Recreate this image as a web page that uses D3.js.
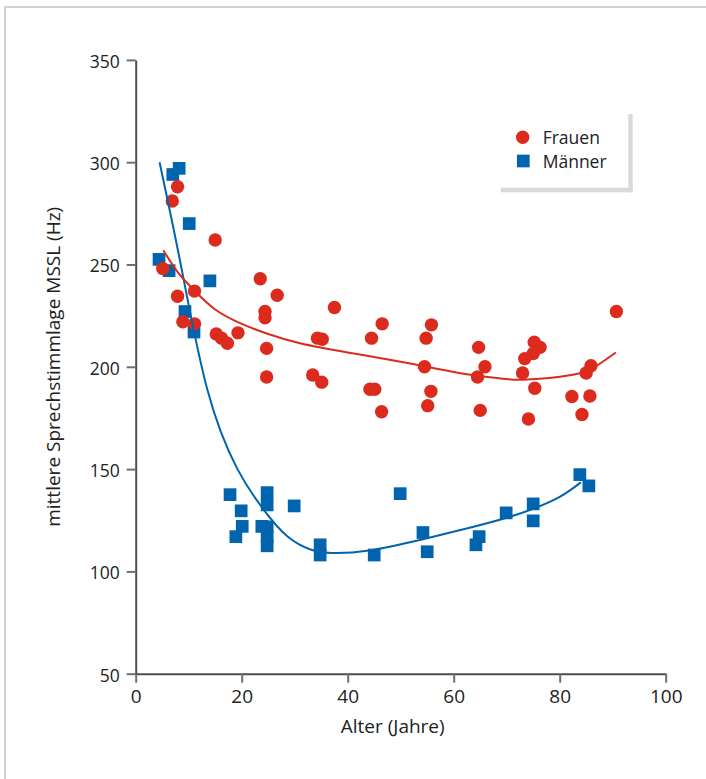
<!DOCTYPE html>
<html>
<head>
<meta charset="utf-8">
<script src="https://cdn.jsdelivr.net/npm/d3@7"></script>
<style>
  html, body { margin: 0; padding: 0; background: #fff; }
  svg { display: block; }
  text { font-family: "Open Sans", "Noto Sans", "DejaVu Sans", sans-serif; fill: #222; }
</style>
</head>
<body>
<svg id="chart" width="706" height="779"></svg>
<script>
// ---- data ----
const frauenAge = [5.1, 6.9, 7.9, 7.9, 8.9, 11.1, 11.1, 15.0, 15.2, 16.2, 17.3, 19.3, 23.5, 24.4, 24.4, 24.7, 24.7, 26.7,
  33.4, 34.3, 35.2, 35.1, 37.5, 44.2, 45.1, 44.5, 46.5, 46.4, 54.5, 54.8, 55.8, 55.7, 55.1,
  64.7, 65.9, 64.5, 65.0, 73.0, 73.4, 75.0, 75.2, 76.3, 75.3, 74.1, 82.3, 84.2, 85.7, 85.0, 85.9, 90.7];
const frauenHz = [248, 281, 288, 234.5, 222, 237, 221, 262, 216, 214, 211.5, 216.6, 243, 227, 224, 209, 195, 235,
  196, 214, 213.5, 192.5, 229, 189, 189, 214, 221, 178, 200, 214, 220.5, 188, 181,
  209.5, 200, 195, 178.7, 197, 204, 206.5, 212, 209.5, 189.5, 174.5, 185.5, 176.7, 185.7, 197, 200.5, 227];

const maennerAge = [8.2, 7.0, 10.1, 4.4, 6.3, 14.0, 9.3, 11.0,
  17.8, 19.9, 24.8, 24.8, 29.9, 20.1, 18.9, 23.8, 24.8, 24.8, 24.8, 34.8, 34.8,
  49.9, 45.0, 54.2, 55.0, 64.8, 64.2, 69.9, 75.0, 75.0, 83.8, 85.5];
const maennerHz = [297, 294, 270, 252.5, 247, 242, 227, 217,
  137.5, 129.6, 138.5, 132.5, 132, 122, 117, 122, 121.8, 117, 112.5, 113, 108,
  138, 108, 119, 109.6, 117, 113, 128.6, 133, 124.7, 147.3, 141.8];

// fitted trend curves
const fitFrauenAge = [5.2, 8, 11, 15, 20, 25, 31, 40, 50, 55, 61, 65, 70, 73, 78, 84, 87, 90.6];
const fitFrauenHz  = [257, 246, 237.5, 228, 221, 216, 211.5, 207, 202.5, 200, 197, 195.5, 194, 193.7, 194.5, 197, 200.5, 207];
const fitMaennerAge = [4.5, 8.5, 13.5, 19.2, 24.2, 28.6, 33, 37, 44, 54, 63, 70, 75, 80, 84];
const fitMaennerHz  = [300, 250, 189, 150, 130, 117.2, 110.7, 109, 110.2, 115.6, 121.3, 126.2, 130.6, 136.4, 143.5];

const xTicks = [0, 20, 40, 60, 80, 100];
const yTicks = [50, 100, 150, 200, 250, 300, 350];
const seriesNames = ["Frauen", "Männer"];
const xTitle = "Alter (Jahre)";
const yTitle = "mittlere Sprechstimmlage MSSL (Hz)";

// ---- styles ----
const RED = "#dc2b1d";
const BLUE = "#0064ae";
const AXIS = "#4d4d4d";

const svg = d3.select("#chart");

// outer frame
svg.append("rect")
  .attr("x", 5).attr("y", 7).attr("width", 760).attr("height", 820)
  .attr("fill", "none").attr("stroke", "#d2d2d2").attr("stroke-width", 2);

const x = d3.scaleLinear().domain([0, 100]).range([135.7, 665.7]);
const y = d3.scaleLinear().domain([50, 350]).range([673.7, 59.9]);

// axes
const xAxis = svg.append("g")
  .attr("transform", `translate(0,${y(50)})`)
  .call(d3.axisBottom(x).tickValues(xTicks).tickSize(9).tickPadding(7).tickSizeOuter(0));
xAxis.selectAll("text").style("font-size", "19px").attr("fill", "#222");

const yAxis = svg.append("g")
  .attr("transform", `translate(${x(0)},0)`)
  .call(d3.axisLeft(y).tickValues(yTicks).tickSize(9).tickPadding(7).tickSizeOuter(0));
yAxis.selectAll("text").style("font-size", "17.5px").attr("fill", "#222").attr("dy", "0.42em");

[xAxis, yAxis].forEach(g => {
  g.select(".domain").attr("stroke", AXIS).attr("stroke-width", 2);
  g.selectAll(".tick line").attr("stroke", "#6e6e6e").attr("stroke-width", 2);
  g.selectAll("text").attr("font-family", null);
});

// axis titles
svg.append("text")
  .attr("x", 392.7).attr("y", 733.3)
  .attr("text-anchor", "middle")
  .style("font-size", "19px")
  .text(xTitle);

svg.append("text")
  .attr("transform", `translate(60,${(y(50) + y(350)) / 2}) rotate(-90)`)
  .attr("text-anchor", "middle")
  .style("font-size", "19px")
  .text(yTitle);

// markers
const men = maennerAge.map((a, i) => ({ a, v: maennerHz[i] }));
const women = frauenAge.map((a, i) => ({ a, v: frauenHz[i] }));
const sq = 12.7;

svg.append("g").selectAll("rect").data(men).join("rect")
  .attr("x", d => x(d.a) - sq / 2).attr("y", d => y(d.v) - sq / 2)
  .attr("width", sq).attr("height", sq)
  .attr("fill", BLUE);

svg.append("g").selectAll("circle").data(women).join("circle")
  .attr("cx", d => x(d.a)).attr("cy", d => y(d.v)).attr("r", 6.7)
  .attr("fill", RED);

// trend lines
const line = d3.line().x(d => x(d[0])).y(d => y(d[1])).curve(d3.curveNatural);
svg.append("path")
  .datum(fitMaennerAge.map((a, i) => [a, fitMaennerHz[i]]))
  .attr("d", line).attr("fill", "none").attr("stroke", BLUE).attr("stroke-width", 2);
svg.append("path")
  .datum(fitFrauenAge.map((a, i) => [a, fitFrauenHz[i]]))
  .attr("d", line).attr("fill", "none").attr("stroke", RED).attr("stroke-width", 2);

// legend
const lg = svg.append("g");
lg.append("rect").attr("x", 628.3).attr("y", 114).attr("width", 4.4).attr("height", 78.3).attr("fill", "#d9d9d9");
lg.append("rect").attr("x", 501).attr("y", 187.7).attr("width", 131.7).attr("height", 4.6).attr("fill", "#d9d9d9");
lg.append("circle").attr("cx", 522.7).attr("cy", 137.3).attr("r", 6.7).attr("fill", RED);
lg.append("rect").attr("x", 523.3 - sq / 2).attr("y", 161 - sq / 2).attr("width", sq).attr("height", sq).attr("fill", BLUE);
lg.append("text").attr("x", 542.7).attr("y", 144.3).style("font-size", "17.5px").text(seriesNames[0]);
lg.append("text").attr("x", 542.7).attr("y", 167.7).style("font-size", "17.5px").text(seriesNames[1]);
</script>
</body>
</html>
